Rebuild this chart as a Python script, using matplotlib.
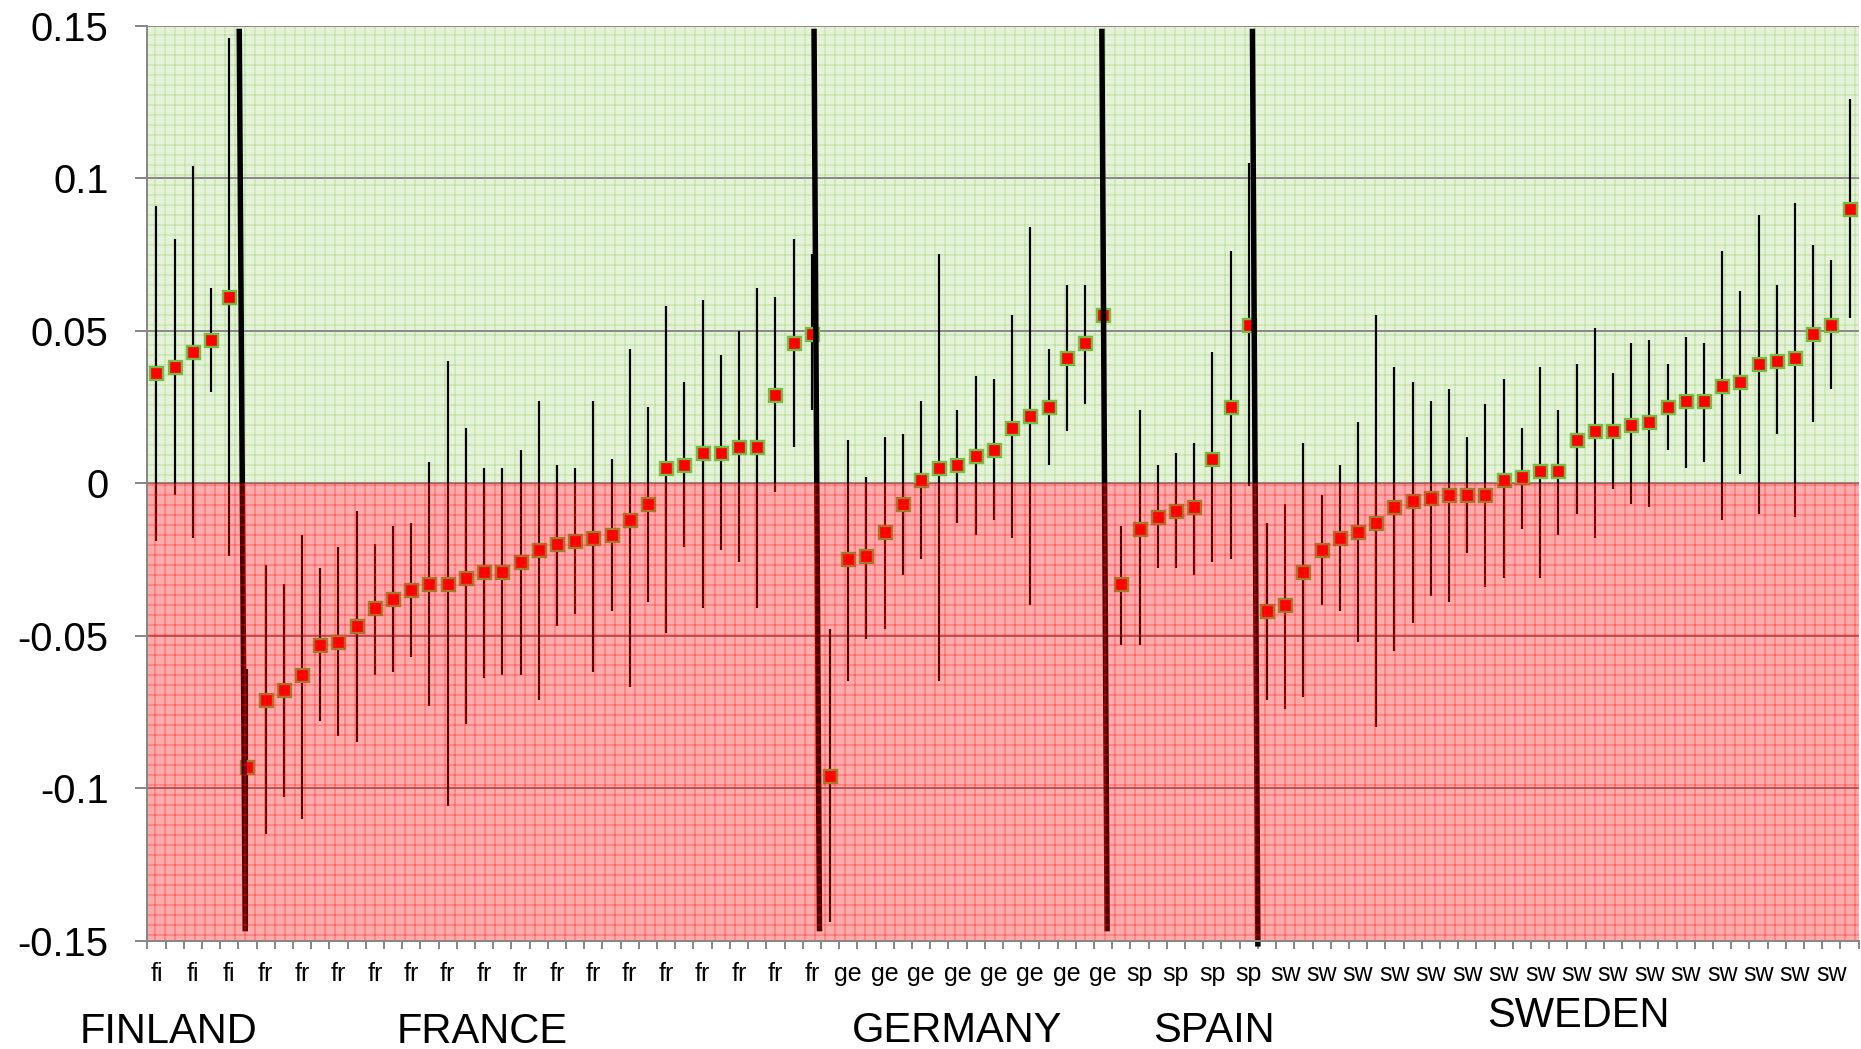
import matplotlib.pyplot as plt

plt.rcParams["font.family"] = ["Liberation Sans", "DejaVu Sans"]
plt.rcParams["hatch.linewidth"] = 0.6

# countries in the order they appear along the x axis
countries = ["FINLAND", "FRANCE", "GERMANY", "SPAIN", "SWEDEN"]
codes = ["fi", "fr", "ge", "sp", "sw"]

# point estimate (mid), upper (hi) and lower (lo) end of each interval
fi_mid = [0.036, 0.038, 0.043, 0.047, 0.061]
fi_hi = [0.091, 0.080, 0.104, 0.064, 0.146]
fi_lo = [-0.019, -0.004, -0.018, 0.030, -0.024]

fr_mid = [-0.093, -0.071, -0.068, -0.063, -0.053, -0.052, -0.047, -0.041,
          -0.038, -0.035, -0.033, -0.033, -0.031, -0.029, -0.029, -0.026,
          -0.022, -0.020, -0.019, -0.018, -0.017, -0.012, -0.007, 0.005,
          0.006, 0.010, 0.010, 0.012, 0.012, 0.029, 0.046, 0.049]
fr_hi = [-0.061, -0.027, -0.033, -0.017, -0.028, -0.021, -0.009, -0.020,
         -0.014, -0.013, 0.007, 0.040, 0.018, 0.005, 0.005, 0.011,
         0.027, 0.006, 0.005, 0.027, 0.008, 0.044, 0.025, 0.058,
         0.033, 0.060, 0.042, 0.050, 0.064, 0.061, 0.080, 0.075]
fr_lo = [-0.146, -0.115, -0.103, -0.110, -0.078, -0.083, -0.085, -0.063,
         -0.062, -0.057, -0.073, -0.106, -0.079, -0.064, -0.063, -0.063,
         -0.071, -0.047, -0.043, -0.062, -0.042, -0.067, -0.039, -0.049,
         -0.021, -0.041, -0.022, -0.026, -0.041, -0.003, 0.012, 0.024]

ge_mid = [-0.096, -0.025, -0.024, -0.016, -0.007, 0.001, 0.005, 0.006,
          0.009, 0.011, 0.018, 0.022, 0.025, 0.041, 0.046, 0.055]
ge_hi = [-0.048, 0.014, 0.002, 0.015, 0.016, 0.027, 0.075, 0.024,
         0.035, 0.034, 0.055, 0.084, 0.044, 0.065, 0.065, 0.075]
ge_lo = [-0.144, -0.065, -0.051, -0.048, -0.030, -0.025, -0.065, -0.013,
         -0.017, -0.012, -0.018, -0.040, 0.006, 0.017, 0.026, 0.035]

sp_mid = [-0.033, -0.015, -0.011, -0.009, -0.008, 0.008, 0.025, 0.052]
sp_hi = [-0.014, 0.024, 0.006, 0.010, 0.013, 0.043, 0.076, 0.105]
sp_lo = [-0.053, -0.053, -0.028, -0.028, -0.030, -0.026, -0.025, -0.001]

sw_mid = [-0.042, -0.040, -0.029, -0.022, -0.018, -0.016, -0.013, -0.008,
          -0.006, -0.005, -0.004, -0.004, -0.004, 0.001, 0.002, 0.004,
          0.004, 0.014, 0.017, 0.017, 0.019, 0.020, 0.025, 0.027,
          0.027, 0.032, 0.033, 0.039, 0.040, 0.041, 0.049, 0.052, 0.090]
sw_hi = [-0.013, -0.007, 0.013, -0.004, 0.006, 0.020, 0.055, 0.038,
         0.033, 0.027, 0.031, 0.015, 0.026, 0.034, 0.018, 0.038,
         0.024, 0.039, 0.051, 0.036, 0.046, 0.047, 0.039, 0.048,
         0.046, 0.076, 0.063, 0.088, 0.065, 0.092, 0.078, 0.073, 0.126]
sw_lo = [-0.071, -0.074, -0.070, -0.040, -0.042, -0.052, -0.080, -0.055,
         -0.046, -0.037, -0.039, -0.023, -0.034, -0.031, -0.015, -0.031,
         -0.017, -0.010, -0.018, -0.002, -0.007, -0.008, 0.011, 0.005,
         0.007, -0.012, 0.003, -0.010, 0.016, -0.011, 0.020, 0.031, 0.054]

y_ticks = [0.15, 0.1, 0.05, 0, -0.05, -0.1, -0.15]
y_tick_labels = ["0.15", "0.1", "0.05", "0", "-0.05", "-0.1", "-0.15"]

# thick country separators: (x at top, x at bottom, y at bottom)
separators = [(4.55, 4.88, -0.147), (36.12, 36.42, -0.147),
              (51.93, 52.22, -0.147), (60.2, 60.5, -0.152)]

mids = fi_mid + fr_mid + ge_mid + sp_mid + sw_mid
his = fi_hi + fr_hi + ge_hi + sp_hi + sw_hi
los = fi_lo + fr_lo + ge_lo + sp_lo + sw_lo
sizes = [len(fi_mid), len(fr_mid), len(ge_mid), len(sp_mid), len(sw_mid)]
labels = [c for c, n in zip(codes, sizes) for _ in range(n)]
x = list(range(len(mids)))

W, H, DPI = 1861, 1049, 120
fig = plt.figure(figsize=(W / DPI, H / DPI), dpi=DPI)
ax = fig.add_axes([147.3 / W, 108.5 / H, 1711.4 / W, 914.8 / H])
ax.set_xlim(-0.5, len(mids) - 0.5)
ax.set_ylim(-0.15, 0.15)

# green pattern sits behind the data, the red one is a see-through overlay
ax.axhspan(0, 0.15, facecolor="#e4f3d8", edgecolor="#bfdea2", hatch="++",
           linewidth=0, zorder=0.2)
ax.axhspan(-0.15, 0, facecolor=(1, 0, 0, 0.33), edgecolor=(1, 0.1, 0.1, 0.5),
           hatch="++", linewidth=0, zorder=5)

ax.set_axisbelow(True)
ax.yaxis.grid(True, color="#8a8a8a", linewidth=1.2)

ax.vlines(x, los, his, color="black", linewidth=1.3, zorder=2)
ax.plot(x, mids, linestyle="none", marker="s", markersize=7.8,
        markerfacecolor="#ff0000", markeredgecolor="#77bb44",
        markeredgewidth=1.4, zorder=3)

for xt, xb, yb in separators:
    ax.plot([xt, xb], [0.149, yb], color="black", linewidth=3.3,
            solid_capstyle="butt", zorder=4, clip_on=False)

# axes styling
for side in ["top", "right"]:
    ax.spines[side].set_visible(False)
for side in ["left", "bottom"]:
    ax.spines[side].set_color("#888888")
    ax.spines[side].set_linewidth(1.2)
    ax.spines[side].set_zorder(6)

ax.set_yticks(y_ticks)
ax.set_yticklabels(y_tick_labels)
ax.tick_params(axis="y", labelsize=24, length=7.2, width=1.2,
               color="#888888", pad=16)

ax.set_xticks(x[::2])
ax.set_xticklabels(labels[::2])
ax.set_xticks([i - 0.5 for i in range(len(mids) + 1)], minor=True)
ax.tick_params(axis="x", which="major", length=0, labelsize=15, pad=13)
ax.tick_params(axis="x", which="minor", length=4.8, width=1.2,
               color="#888888")

# country names under the axis
name_pos = [(168.5, 1043), (482.5, 1043), (956.7, 1042), (1214, 1042),
            (1578, 1027)]
for name, (px, py) in zip(countries, name_pos):
    fig.text(px / W, 1 - py / H, name, ha="center", va="baseline",
             fontsize=25)

fig.savefig("out.png", dpi=DPI)
